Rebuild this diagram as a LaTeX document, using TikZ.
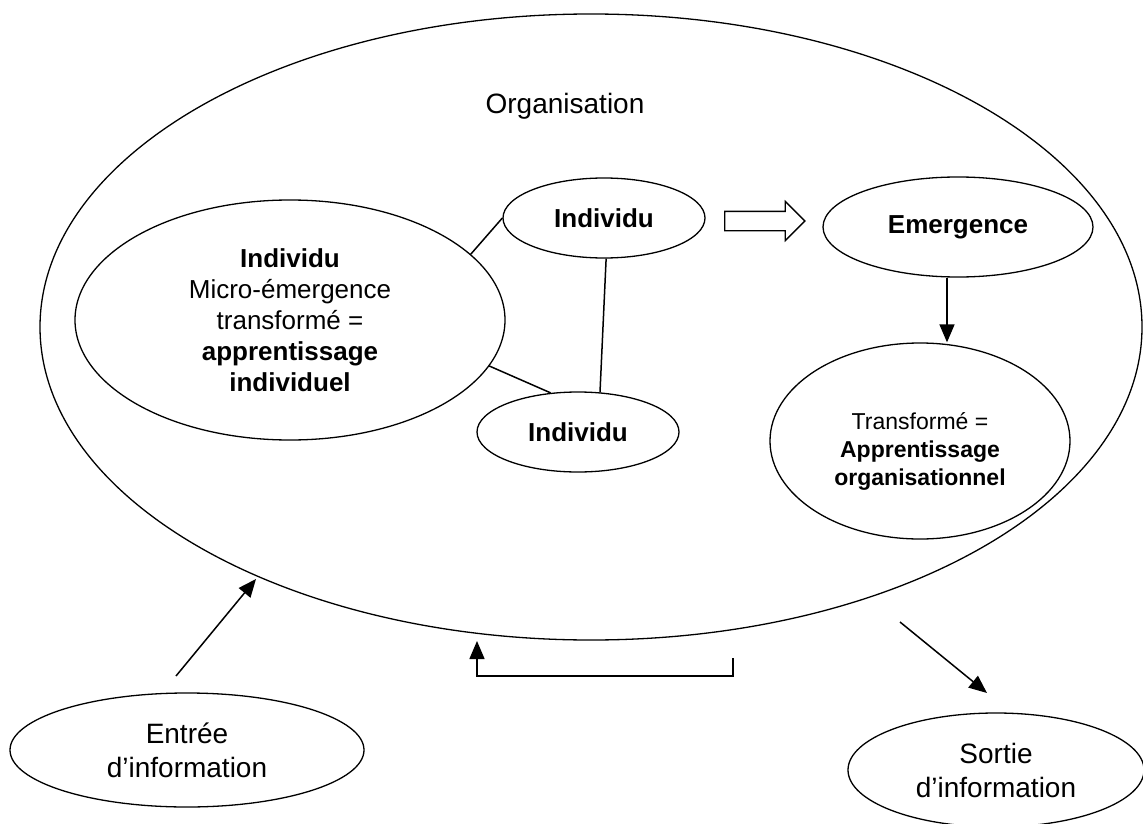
\documentclass[tikz,border=0pt]{standalone}
\usepackage{fontspec}
\setmainfont{Liberation Sans}
\usetikzlibrary{positioning, arrows.meta, shapes.geometric, shapes.arrows}
\tikzset{
  >={Triangle[length=18pt, width=15pt]},
  bulle/.style={draw, ellipse, line width=1.3pt, inner sep=0pt, align=center, font=\fontsize{26}{31}\selectfont},
  lien/.style={line width=1.5pt},
  fleche/.style={lien, ->},
}

\begin{document}
\begin{tikzpicture}[x=1pt, y=-1pt]
  \useasboundingbox (0,0) rectangle (1143,824);
  % organisation
  \node[bulle, minimum width=1102pt, minimum height=626pt] (org) at (591,327) {};
  \node[font=\fontsize{28}{33}\selectfont] (orgtxt) at (565,106) {Organisation};
  % individus
  \node[bulle, minimum width=430pt, minimum height=240pt] (indiv) at (290,320)
    {\textbf{Individu}\\ Micro-émergence\\ transformé =\\ \textbf{apprentissage}\\ \textbf{individuel}};
  \node[bulle, minimum width=202pt, minimum height=80pt] (indA) at (604,218) {\textbf{Individu}};
  \node[bulle, minimum width=202pt, minimum height=80pt] (indB) at (578,432) {\textbf{Individu}};
  \draw[lien] (indiv.20) -- (indA.west);
  \draw[lien] (indiv.-13) -- (indB.125);
  \draw[lien] (indA.-87) -- (indB.61);
  % emergence
  \node[draw, single arrow, line width=1.3pt, inner sep=9pt, minimum height=80pt,
        single arrow head extend=10pt] (saut) at (760,221) {};
  \node[bulle, minimum width=270pt, minimum height=100pt] (emerg) at (958,227) {\textbf{Emergence}};
  \node[bulle, minimum width=300pt, minimum height=196pt, font=\fontsize{23}{28}\selectfont] (transf) at (920,441)
    {\\[10pt] Transformé =\\ \textbf{Apprentissage}\\ \textbf{organisationnel}};
  \draw[fleche] ([xshift=-11pt]emerg.south) -- ([xshift=-11pt]emerg.south |- transf.north);
  % entree / sortie
  \node[bulle, minimum width=354pt, minimum height=114pt, font=\fontsize{28}{34}\selectfont] (entree) at (187,750)
    {Entrée\\ d’information};
  \node[bulle, minimum width=296pt, minimum height=114pt, font=\fontsize{28}{34}\selectfont] (sortie) at (996,770)
    {Sortie\\ d’information};
  \coordinate (inA) at (176,676);
  \coordinate (inB) at (256,579);
  \coordinate (outA) at (900,622);
  \coordinate (outB) at (987,693);
  \draw[fleche] (inA) -- (inB);
  \draw[fleche] (outA) -- (outB);
  % retour
  \coordinate (retA) at (733,658);
  \coordinate (retB) at (477,641);
  \draw[fleche] (retA) -- ++(0,18) -| (retB);
\end{tikzpicture}
\end{document}
